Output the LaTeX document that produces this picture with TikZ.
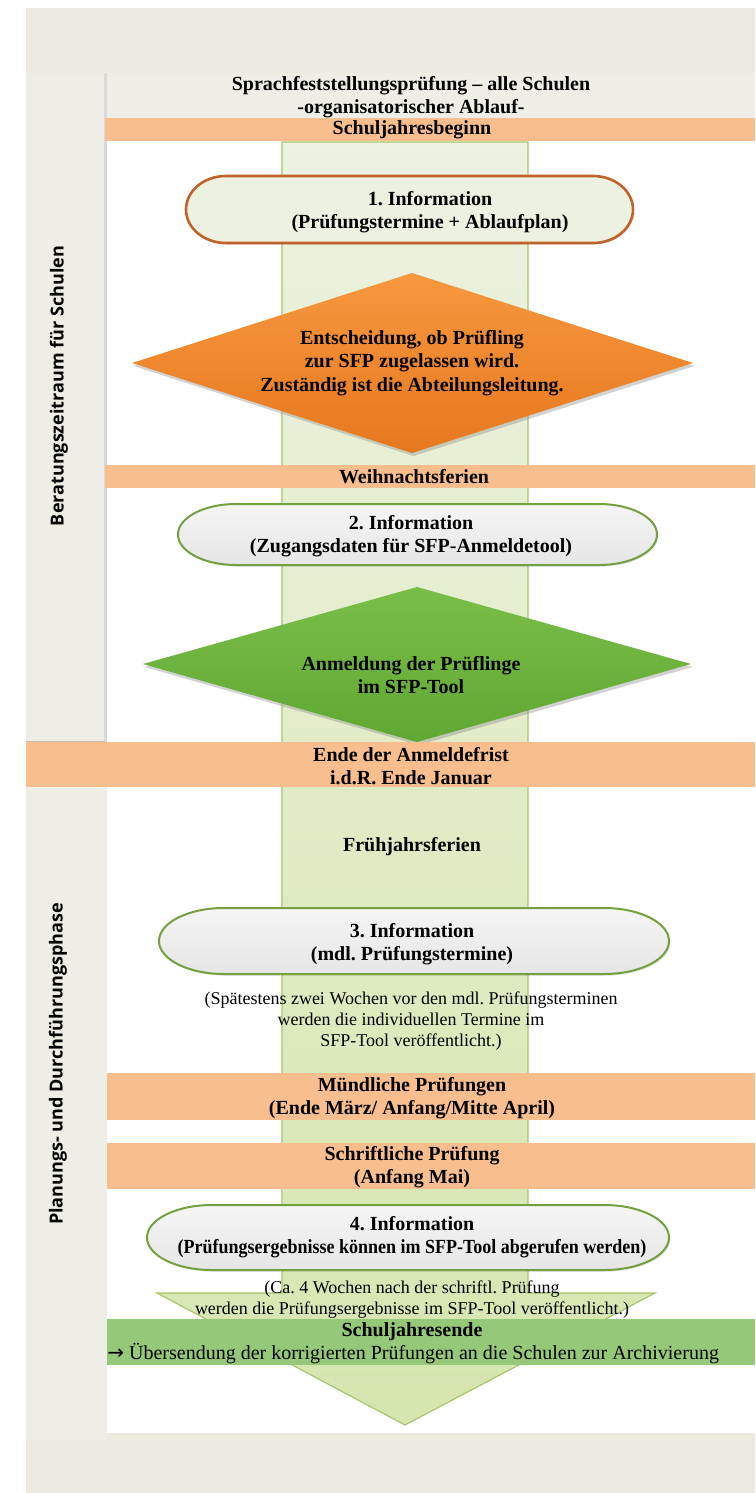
\documentclass[tikz,border=0pt]{standalone}
\usepackage{fontspec}
\setmainfont{Liberation Serif}
\newfontfamily\lsans{Open Sans}
\newfontfamily\djv{DejaVu Sans}
\usetikzlibrary{shadows}
\definecolor{outerbg}{HTML}{EDEBE0}
\definecolor{panelbg}{HTML}{EFEEE6}
\definecolor{titlebg}{HTML}{EEEDE6}
\definecolor{bandor}{HTML}{F9BE8E}
\definecolor{colfill}{HTML}{EDF2E1}
\definecolor{colfillb}{HTML}{D6E6AE}
\definecolor{colline}{HTML}{A9C46C}
\definecolor{infoaline}{HTML}{C0622A}
\definecolor{infoafill}{HTML}{EDF1E0}
\definecolor{infline}{HTML}{76A040}
\definecolor{inffillt}{HTML}{F5F5F5}
\definecolor{inffillb}{HTML}{E6E6E6}
\definecolor{orT}{HTML}{F7983F}
\definecolor{orB}{HTML}{E6781E}
\definecolor{grT}{HTML}{7ABE49}
\definecolor{grB}{HTML}{60A833}
\definecolor{endband}{HTML}{95C878}
\begin{document}
\frenchspacing
\begin{tikzpicture}[x=0.5pt,y=-0.5pt,
  btxt/.style={font=\bfseries\fontsize{10}{11.5}\selectfont, align=center, inner sep=0pt},
  ntxt/.style={font=\fontsize{9}{10.5}\selectfont, align=center, inner sep=0pt},
  wtxt/.style={font=\fontsize{10}{11.5}\selectfont, inner sep=0pt},
  lbl/.style={font=\lsans\bfseries\fontsize{9}{11}\selectfont, rotate=90, inner sep=0pt},
  bandbox/.style={fill=bandor, draw=none},
  infobox/.style={draw=infline, line width=1pt, top color=inffillt, bottom color=inffillb,
     drop shadow={shadow xshift=0.6pt, shadow yshift=-0.8pt, opacity=0.25}},
  diashadow/.style={drop shadow={shadow xshift=0.8pt, shadow yshift=-1.5pt, opacity=0.35}}
]
\useasboundingbox (0,0) rectangle (755,1493);
\fill[white] (0,0) rectangle (755,1493);
\fill[outerbg] (26,8) rectangle (755,1493);
% left panels
\fill[panelbg] (26,73) rectangle (105,742);
\fill[panelbg] (26,787) rectangle (107,1440);
\fill[titlebg] (105,73) rectangle (755,118);
\fill[white] (107,141) rectangle (755,1433);
\draw[black!15, line width=1.2pt] (105.5,73) -- (105.5,742);
\draw[black!35!brown!40, line width=1pt] (26,742) -- (105,742);

% big arrow (column)
\path[draw=colline, line width=0.6pt, top color=colfill, bottom color=colfillb]
  (282,142) -- (528,142) -- (528,1293) -- (655,1293) -- (405,1425) -- (157,1293) -- (282,1293) -- cycle;

% bands
\fill[bandbox] (105,118) rectangle (755,141);
\node[btxt] (sjb) at (412,130) {Schuljahresbeginn};
\fill[bandbox] (105,465) rectangle (755,488);
\node[btxt] (wnf) at (414,477) {Weihnachtsferien};
\fill[bandbox] (107,1073) rectangle (755,1120);
\node[btxt] (mdl) at (412,1098) {Mündliche Prüfungen\\(Ende März/ Anfang/Mitte April)};
\fill[bandbox] (107,1143) rectangle (755,1189);
\node[btxt] (schr) at (412,1167) {Schriftliche Prüfung\\(Anfang Mai)};

% title
\node[btxt] (title) at (411,97) {Sprachfeststellungsprüfung – alle Schulen\\-organisatorischer Ablauf-};

% info 1
\path[draw=infoaline, line width=1.3pt, fill=infoafill,
  drop shadow={shadow xshift=0.6pt, shadow yshift=-0.8pt, opacity=0.25}]
  (593,176) arc[start angle=90, end angle=-90, x radius=20pt, y radius=16.75pt]
  -- (226,243) arc[start angle=270, end angle=90, x radius=20pt, y radius=16.75pt] -- cycle;
\node[btxt] (inf1) at (430,212) {1. Information\\(Prüfungstermine + Ablaufplan)};

% orange diamond
\path[diashadow, top color=orT, bottom color=orB] (412,273) -- (693,363) -- (412,453) -- (132,363) -- cycle;
\node[btxt, font=\bfseries\fontsize{10}{11.8}\selectfont] (ent) at (412,363) {Entscheidung, ob Prüfling\\zur SFP zugelassen wird.\\Zuständig ist die Abteilungsleitung.};

% info 2
\path[infobox]
  (599,504) arc[start angle=90, end angle=-90, x radius=29pt, y radius=15.25pt]
  -- (236,565) arc[start angle=270, end angle=90, x radius=29pt, y radius=15.25pt] -- cycle;
\node[btxt] (inf2) at (411,536) {2. Information\\(Zugangsdaten für SFP-Anmeldetool)};

% green diamond
\path[diashadow, top color=grT, bottom color=grB] (417,587) -- (691,664) -- (417,742) -- (143,664) -- cycle;
\node[btxt] (anm) at (411,675) {Anmeldung der Prüflinge\\im SFP-Tool};

% band over diamond tip
\fill[bandbox] (26,742) rectangle (755,787);
\node[btxt] (anf) at (411,766) {Ende der Anmeldefrist\\i.d.R. Ende Januar};

\node[btxt] (fjf) at (412,847) {Frühjahrsferien};

% info 3
\path[infobox]
  (604,908) arc[start angle=90, end angle=-90, x radius=32.5pt, y radius=16.5pt]
  -- (224,974) arc[start angle=270, end angle=90, x radius=32.5pt, y radius=16.5pt] -- cycle;
\node[btxt] (inf3) at (412,944) {3. Information\\(mdl. Prüfungstermine)};
\node[ntxt] (note3) at (411,1021) {(Spätestens zwei Wochen vor den mdl. Prüfungsterminen\\werden die individuellen Termine im\\SFP-Tool veröffentlicht.)};

% info 4
\path[infobox]
  (604,1205) arc[start angle=90, end angle=-90, x radius=32.5pt, y radius=16.25pt]
  -- (212,1270) arc[start angle=270, end angle=90, x radius=32.5pt, y radius=16.25pt] -- cycle;
\node[btxt] (inf4) at (412,1237) {4. Information\\\scalebox{0.9}[1]{(Prüfungsergebnisse können im SFP-Tool abgerufen werden)}};
\node[ntxt] (note4) at (412,1300) {(Ca. 4 Wochen nach der schriftl. Prüfung\\werden die Prüfungsergebnisse im SFP-Tool veröffentlicht.)};

% end band
\fill[endband] (107,1319) rectangle (755,1365);
\node[btxt] (sje) at (412,1332) {Schuljahresende};
\node[wtxt, anchor=west] (sjeb) at (107,1354) {{\djv →} Übersendung der korrigierten Prüfungen an die Schulen zur Archivierung};

% side labels
\node[lbl] (lb1) at (59,386) {Beratungszeitraum für Schulen};
\node[lbl] (lb2) at (58,1064) {Planungs- und Durchführungsphase};
\end{tikzpicture}
\end{document}
